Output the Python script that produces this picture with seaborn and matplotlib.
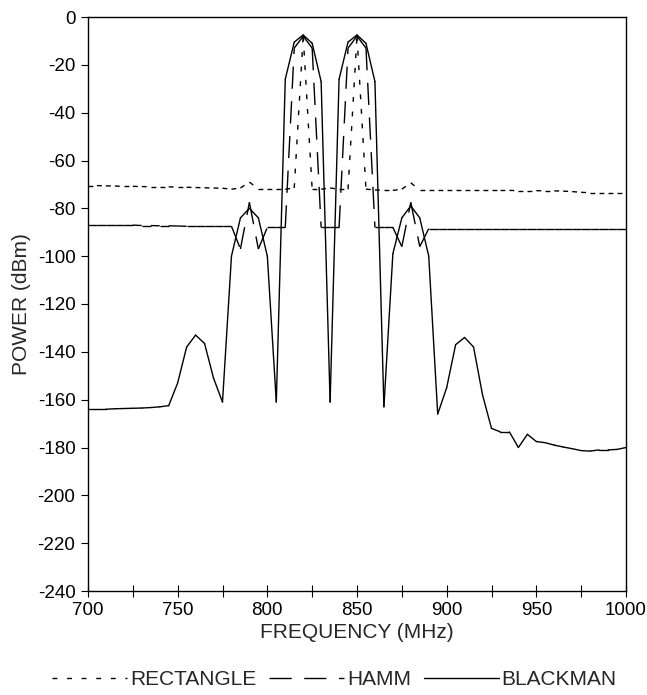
import matplotlib
matplotlib.use("Agg")
import matplotlib.pyplot as plt
from matplotlib.ticker import MultipleLocator
import numpy as np
import pandas as pd
import seaborn as sns

# ---------------- data ----------------
freq = [700, 705, 710, 715, 720, 725, 730, 735, 740, 745,
        750, 755, 760, 765, 770, 775, 780, 785, 790, 795,
        800, 805, 810, 815, 820, 825, 830, 835, 840, 845,
        850, 855, 860, 865, 870, 875, 880, 885, 890, 895,
        900, 905, 910, 915, 920, 925, 930, 935, 940, 945,
        950, 955, 960, 965, 970, 975, 980, 985, 990, 995, 1000]

rectangle = [-70.5, -70.5, -70.6, -70.7, -70.8, -70.8, -70.9, -71.0, -71.0, -71.0,
             -71.2, -71.2, -71.3, -71.4, -71.5, -71.6, -72.0, -71.5, -69.0, -72.0,
             -72.0, -72.0, -72.0, -71.5, -8.0, -72.0, -72.0, -71.5, -72.0, -72.0,
             -8.0, -72.0, -72.3, -72.5, -72.5, -72.0, -69.3, -72.5, -72.5, -72.5,
             -72.5, -72.5, -72.5, -72.5, -72.5, -72.5, -72.5, -72.5, -72.6, -72.6,
             -72.6, -72.7, -72.7, -72.8, -73.0, -73.3, -73.5, -73.5, -73.5, -73.5, -73.5]

hamm = [-87.0, -87.0, -87.0, -87.0, -87.0, -87.0, -87.2, -87.2, -87.3, -87.3,
        -87.4, -87.5, -87.5, -87.5, -87.5, -87.5, -87.5, -97.0, -77.5, -97.0,
        -88.0, -88.0, -88.0, -13.0, -8.0, -13.0, -88.0, -88.0, -88.0, -13.0,
        -8.0, -13.0, -88.0, -88.0, -88.0, -96.0, -77.5, -96.0, -88.5, -88.5,
        -88.5, -88.5, -88.5, -88.5, -88.5, -88.5, -88.5, -88.5, -88.5, -88.5,
        -88.5, -88.5, -88.5, -88.5, -88.5, -88.5, -88.5, -88.5, -88.5, -88.5, -88.5]

blackman = [-164.0, -164.0, -164.0, -163.8, -163.7, -163.6, -163.5, -163.3, -163.0, -162.5,
            -153.0, -138.0, -133.0, -136.5, -151.0, -161.0, -100.0, -84.0, -80.0, -84.0,
            -100.0, -161.0, -26.0, -10.5, -7.5, -11.0, -27.0, -161.0, -26.0, -10.5,
            -7.5, -11.0, -27.0, -163.0, -99.0, -84.0, -79.0, -84.0, -100.0, -166.0,
            -155.0, -137.0, -134.0, -138.0, -158.0, -172.0, -173.5, -173.5, -180.0, -174.5,
            -177.5, -178.0, -179.0, -179.8, -180.5, -181.3, -181.5, -181.0, -181.0, -180.8, -180.0]

series_names = ["RECTANGLE", "HAMM", "BLACKMAN"]
series_values = [rectangle, hamm, blackman]

x_ticks = [700, 750, 800, 850, 900, 950, 1000]
y_ticks = [0, -20, -40, -60, -80, -100, -120, -140, -160, -180, -200, -220, -240]

# ---------------- long-form table: one unit per segment, so that the
# dash pattern restarts at each data point (as in the original chart) -----
rows = []
for name, vals in zip(series_names, series_values):
    for i in range(len(freq) - 1):
        rows.append((name, i, freq[i], vals[i]))
        rows.append((name, i, freq[i + 1], vals[i + 1]))
df = pd.DataFrame(rows, columns=["window", "seg", "freq", "power"])

# ---------------- style ----------------
sns.set_theme(style="ticks")
plt.rcParams["font.family"] = ["Liberation Sans", "DejaVu Sans"]
plt.rcParams["axes.unicode_minus"] = False
plt.rcParams["axes.edgecolor"] = "black"
plt.rcParams["axes.linewidth"] = 1.0
plt.rcParams["xtick.color"] = "black"
plt.rcParams["ytick.color"] = "black"

fig = plt.figure(figsize=(6.47, 6.95), dpi=100)
ax = fig.add_axes([88 / 647, 1 - 591 / 695, (626 - 88) / 647, (591 - 17) / 695])

sns.lineplot(
    data=df, x="freq", y="power", style="window", units="seg",
    estimator=None, sort=False, color="black", linewidth=1.0,
    style_order=series_names,
    dashes={"RECTANGLE": (3.5, 7), "HAMM": (16, 9), "BLACKMAN": ""},
    ax=ax,
)

ax.set_xlim(700, 1000)
ax.set_ylim(-240, 0)
ax.set_xticks(x_ticks)
ax.set_yticks(y_ticks)
ax.set_xticklabels([str(v) for v in x_ticks])
ax.set_yticklabels([str(v) for v in y_ticks])
ax.xaxis.set_minor_locator(MultipleLocator(25))
ax.tick_params(axis="x", which="both", direction="inout", length=8, width=0.8,
               labelsize=13.5, pad=4)
ax.tick_params(axis="y", which="both", direction="out", length=5, width=0.8,
               labelsize=13.5, pad=4)
for s in ax.spines.values():
    s.set_visible(True)
    s.set_color("black")
    s.set_linewidth(1.0)

ax.set_xlabel("FREQUENCY (MHz)", fontsize=15)
ax.set_ylabel("POWER (dBm)", fontsize=15)
ax.xaxis.set_label_coords(0.5, -0.055)
ax.yaxis.set_label_coords(-0.106, 0.5)

sns.move_legend(
    ax, loc="center", bbox_to_anchor=(0.458, -0.155), ncol=3, title=None,
    frameon=False, fontsize=15, handlelength=3.6, handletextpad=0.15,
    columnspacing=0.6,
)

fig.savefig("out.png", dpi=100)
